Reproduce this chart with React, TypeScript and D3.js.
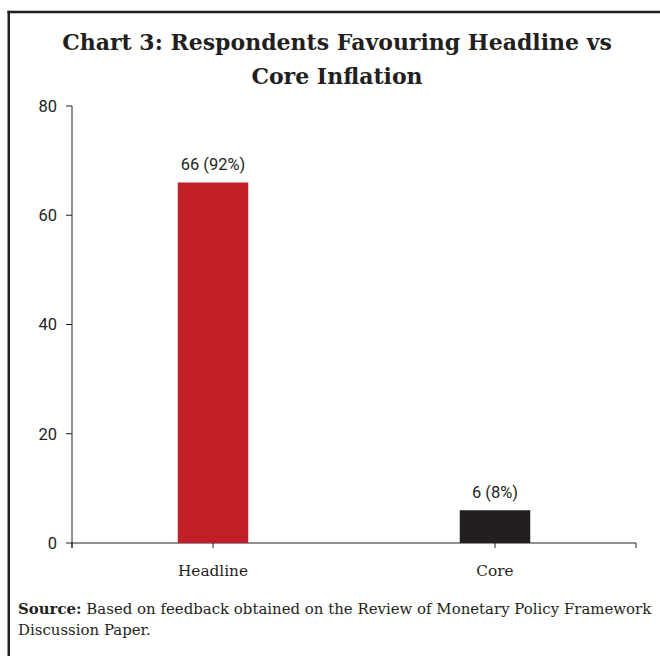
import React from "react";
import * as d3 from "d3";

const categories = ["Headline", "Core"];
const values = [66, 6];
const shares = ["92%", "8%"];
const colors = ["#C01F27", "#231F20"];
const yTicks = [0, 20, 40, 60, 80];
const titleLines = ["Chart 3: Respondents Favouring Headline vs", "Core Inflation"];
const sourceLines = [
  "Based on feedback obtained on the Review of Monetary Policy Framework",
  "Discussion Paper.",
];

const W = 660;
const H = 656;
const left = 72;
const right = 636;
const top = 106;
const bottom = 543;

export default function App() {
  const x = d3.scaleBand<string>().domain(categories).range([left, right]).paddingInner(0).paddingOuter(0);
  const y = d3.scaleLinear().domain([0, 80]).range([bottom, top]);
  const barW = x.bandwidth() * 0.25;
  const numFont = "Roboto, 'DejaVu Sans', Arial, sans-serif";
  const serif = "'DejaVu Serif', 'Liberation Serif', serif";
  const bounds = [left, ...categories.map((c) => (x(c) as number) + x.bandwidth() / 2), right];
  return (
    <svg width={W} height={H} style={{ position: "absolute", left: 0, top: 0, background: "#fff" }}>
      <rect x={0} y={0} width={W} height={H} fill="#fff" />
      <line x1={7.5} x2={W} y1={12} y2={12} stroke="#231F20" strokeWidth={2.5} />
      <line x1={8.75} x2={8.75} y1={10.75} y2={H} stroke="#231F20" strokeWidth={2.5} />
      {titleLines.map((t, i) => (
        <text key={t} x={337} y={50 + i * 34} textAnchor="middle" fontFamily={serif} fontWeight="bold" fontSize={22} fill="#231F20">
          {t}
        </text>
      ))}
      {/* y axis */}
      <line x1={left} x2={left} y1={top} y2={bottom + 5} stroke="#231F20" strokeWidth={1} />
      {yTicks.map((t) => (
        <g key={t}>
          <line x1={left - 6} x2={left} y1={y(t)} y2={y(t)} stroke="#231F20" strokeWidth={1} />
          <text x={57} y={y(t)} dy="0.35em" textAnchor="end" fontFamily={numFont} fontSize={16.5} fill="#231F20">
            {t}
          </text>
        </g>
      ))}
      {/* x axis */}
      <line x1={left} x2={right} y1={bottom} y2={bottom} stroke="#231F20" strokeWidth={1} />
      {bounds.map((b, i) => (
        <line key={i} x1={b} x2={b} y1={bottom} y2={bottom + 5} stroke="#231F20" strokeWidth={1} />
      ))}
      {categories.map((c, i) => {
        const cx = (x(c) as number) + x.bandwidth() / 2;
        return (
          <g key={c}>
            <rect x={cx - barW / 2} y={y(values[i])} width={barW} height={bottom - y(values[i])} fill={colors[i]} />
            <text x={cx} y={y(values[i]) - 12} textAnchor="middle" fontFamily={numFont} fontSize={16.5} fill="#231F20">
              {values[i]} ({shares[i]})
            </text>
            <text x={cx} y={576} textAnchor="middle" fontFamily={serif} fontSize={15.3} fill="#231F20">
              {c}
            </text>
          </g>
        );
      })}
      <text x={18} y={614} fontFamily={serif} fontSize={14.95} fill="#231F20">
        <tspan fontWeight="bold">Source:</tspan> {sourceLines[0]}
      </text>
      <text x={18} y={635} fontFamily={serif} fontSize={14.95} fill="#231F20">
        {sourceLines[1]}
      </text>
    </svg>
  );
}
